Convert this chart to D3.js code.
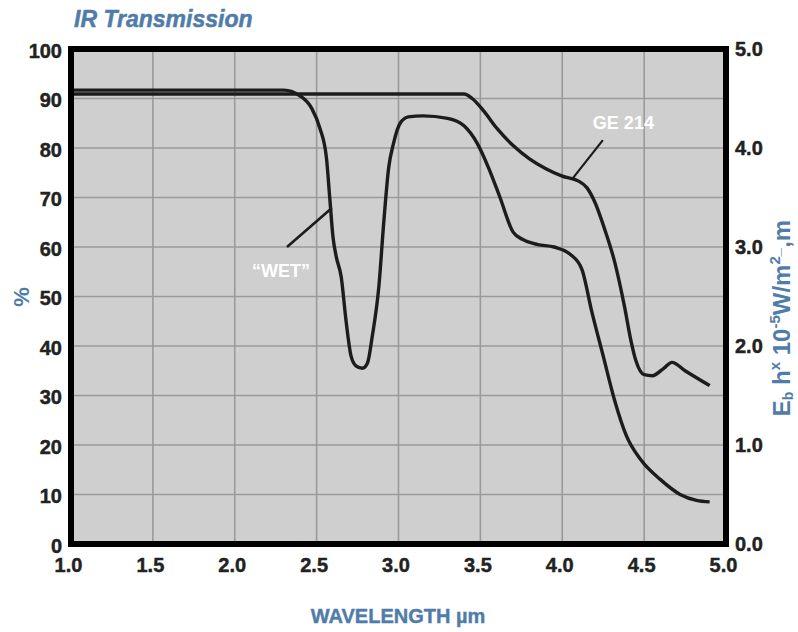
<!DOCTYPE html>
<html><head><meta charset="utf-8">
<script src="https://cdn.jsdelivr.net/npm/d3@7"></script>
<style>
html,body{margin:0;padding:0;background:#fff;}
svg{display:block;}
text{font-family:"Liberation Sans",Arial,sans-serif;}
</style></head>
<body>
<svg id="chart" width="798" height="632"></svg>
<script>
// ---- data ----
const xTicks = [1.0,1.5,2.0,2.5,3.0,3.5,4.0,4.5,5.0];
const yTicksLeft = [0,10,20,30,40,50,60,70,80,90,100];
const yTicksRight = [0.0,1.0,2.0,3.0,4.0,5.0];

const wetWavelength = [1.0,2.30,2.40,2.47,2.52,2.56,2.58,2.60,2.62,2.65,2.68,2.71,2.74,2.78,2.81,2.84,2.88,2.91,2.94,2.97,3.01,3.06,3.15,3.30,3.40,3.48,3.55,3.62,3.70,3.76,3.85,3.95,4.05,4.12,4.18,4.25,4.32,4.39,4.48,4.60,4.72,4.82,4.90];
const wetTransmission = [91.7,91.7,90.5,88,84,78,70,62,58,54,45,38,36,35.5,36.5,42,52,65,76,81,85,86.3,86.5,86,84.5,81,76,70,63,61.5,60.5,60,58.5,55.5,47,38,29,22,17,13,10,8.8,8.5];

const geWavelength = [1.0,3.40,3.45,3.52,3.60,3.70,3.80,3.90,4.00,4.10,4.15,4.20,4.26,4.32,4.38,4.42,4.45,4.50,4.55,4.62,4.67,4.75,4.90];
const geTransmission = [90.9,90.9,90,87.5,84,80.5,77.8,75.8,74.3,73.3,72,69,63.5,57,48,41,37,34.2,34,35.5,36.7,35,32];

const labels = {title:"IR Transmission", xTitle:"WAVELENGTH µm", yLeft:"%", wet:"\u201CWET\u201D", ge:"GE 214"};

// ---- layout ----
const svg = d3.select("#chart");
const L = 71, R = 726, T = 49, B = 544;
const x = d3.scaleLinear().domain([1,5]).range([L,R]);
const y = d3.scaleLinear().domain([0,100]).range([B,T]);
const y2 = d3.scaleLinear().domain([0,5]).range([B,T]);
const blue = "#4f7ca8";

svg.append("text").attr("x",74).attr("y",27).attr("font-size",23).attr("font-weight","bold")
  .attr("font-style","italic").attr("fill",blue).attr("stroke",blue).attr("stroke-width",0.5).text(labels.title);

svg.append("rect").attr("x",L).attr("y",T).attr("width",R-L).attr("height",B-T).attr("fill","#cfcfcf");

// grid
const g = svg.append("g");
g.selectAll("line.vx").data(xTicks.slice(1,-1)).join("line")
  .attr("x1",d=>x(d)).attr("x2",d=>x(d)).attr("y1",T).attr("y2",B)
  .attr("stroke","#9a9a9a").attr("stroke-width",1.6);
g.selectAll("line.hy").data(yTicksLeft.slice(1,-1)).join("line")
  .attr("y1",d=>y(d)).attr("y2",d=>y(d)).attr("x1",L).attr("x2",R)
  .attr("stroke","#9a9a9a").attr("stroke-width",1.6);

// curves
const line = d3.line().x(d=>x(d[0])).y(d=>y(d[1])).curve(d3.curveMonotoneX);
svg.append("path").datum(wetWavelength.map((w,i)=>[w,wetTransmission[i]]))
  .attr("d",line).attr("fill","none").attr("stroke","#1c1c1c").attr("stroke-width",3.4).attr("stroke-linejoin","round");
svg.append("path").datum(geWavelength.map((w,i)=>[w,geTransmission[i]]))
  .attr("d",line).attr("fill","none").attr("stroke","#1c1c1c").attr("stroke-width",3.4).attr("stroke-linejoin","round");

// annotations
svg.append("line").attr("x1",x(2.319)).attr("y1",y(60)).attr("x2",x(2.593)).attr("y2",y(67.9))
  .attr("stroke","#1c1c1c").attr("stroke-width",2.6);
svg.append("text").attr("x",x(2.282)).attr("y",y(53.9)).attr("text-anchor","middle")
  .attr("font-size",18).attr("font-weight","bold").attr("fill","#fff").text(labels.wet);
svg.append("line").attr("x1",x(4.248)).attr("y1",y(81.6)).attr("x2",x(4.065)).attr("y2",y(73.9))
  .attr("stroke","#1c1c1c").attr("stroke-width",2.2);
svg.append("text").attr("x",x(4.187)).attr("y",y(83.8))
  .attr("font-size",18).attr("font-weight","bold").attr("fill","#fff").text(labels.ge);

// frame
svg.append("rect").attr("x",L).attr("y",T).attr("width",R-L).attr("height",B-T)
  .attr("fill","none").attr("stroke","#000").attr("stroke-width",6);

// axes
const tickFont = g2 => g2.selectAll("text").attr("font-size",20).attr("font-weight","bold").attr("fill","#222")
  .attr("stroke","#222").attr("stroke-width",0.45)
  .attr("font-family","'Liberation Sans',Arial,sans-serif");
const axL = svg.append("g").attr("transform",`translate(${L-9},0)`)
  .call(d3.axisLeft(y).tickValues(yTicksLeft).tickFormat(d3.format("d")).tickSize(0).tickPadding(0));
axL.select(".domain").remove(); tickFont(axL); axL.selectAll("text").attr("dy","0.42em");
const axR = svg.append("g").attr("transform",`translate(${R+9},0)`)
  .call(d3.axisRight(y2).tickValues(yTicksRight).tickFormat(d3.format(".1f")).tickSize(0).tickPadding(0));
axR.select(".domain").remove(); tickFont(axR); axR.selectAll("text").attr("dy","0.32em");
const axB = svg.append("g").attr("transform",`translate(-3,${B+14})`)
  .call(d3.axisBottom(x).tickValues(xTicks).tickFormat(d3.format(".1f")).tickSize(0).tickPadding(0));
axB.select(".domain").remove(); tickFont(axB); axB.selectAll("text").attr("dy","0.71em");

// axis titles
svg.append("text").attr("x",398).attr("y",623).attr("text-anchor","middle").attr("font-size",20)
  .attr("font-weight","bold").attr("fill",blue).attr("stroke",blue).attr("stroke-width",0.4).text(labels.xTitle);
svg.append("text").attr("transform","translate(29,297) rotate(-90)").attr("text-anchor","middle")
  .attr("font-size",22).attr("font-weight","bold").attr("fill",blue).text(labels.yLeft);

const rt = svg.append("text").attr("transform","translate(790,318) rotate(-90)").attr("text-anchor","middle")
  .attr("font-size",24).attr("font-weight","bold").attr("fill",blue);
rt.append("tspan").text("E");
rt.append("tspan").attr("font-size",14).attr("dy",3).text("b");
rt.append("tspan").attr("dy",-3).text(" h");
rt.append("tspan").attr("font-size",15).attr("dy",-10).text("x");
rt.append("tspan").attr("dy",10).text(" 10");
rt.append("tspan").attr("font-size",15).attr("dy",-10).text("-5");
rt.append("tspan").attr("dy",10).text("W/m");
rt.append("tspan").attr("font-size",15).attr("dy",-10).text("2");
rt.append("tspan").attr("font-size",15).text("_");
rt.append("tspan").attr("dy",10).text(",m");
</script>
</body></html>
